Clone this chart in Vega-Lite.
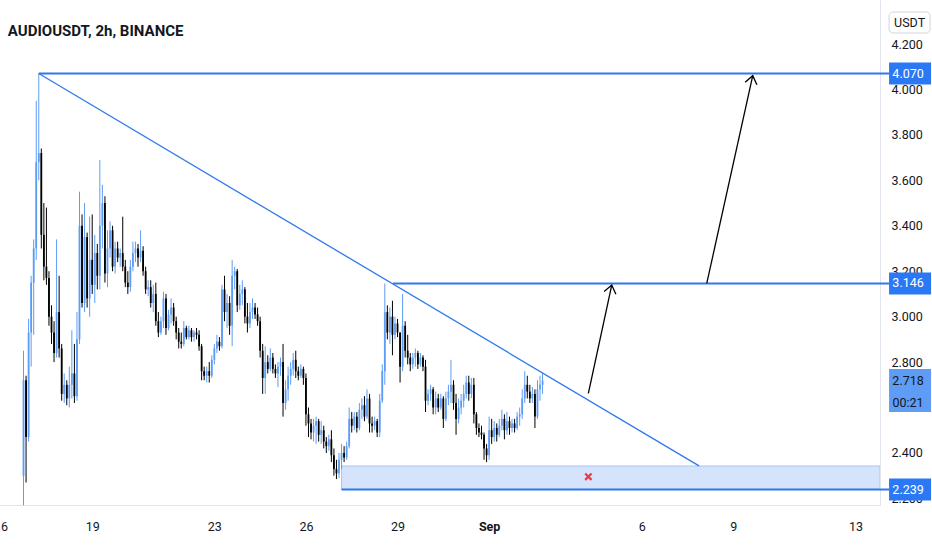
{
"$schema":"https://vega.github.io/schema/vega-lite/v6.json",
"width":880,"height":505,
"autosize":{"type":"none"},
"padding":{"left":0,"top":0,"right":52,"bottom":45},
"background":"#ffffff",
"config":{"view":{"stroke":null},"axis":{"title":null},"scale":{"continuousPadding":0}},
"datasets":{
"candles":[
{"t":"2021-08-16T18:00Z","o":2.30,"h":2.85,"l":2.17,"c":2.72},
{"t":"2021-08-16T20:00Z","o":2.72,"h":2.74,"l":2.27,"c":2.47},
{"t":"2021-08-16T22:00Z","o":2.47,"h":2.99,"l":2.45,"c":2.93},
{"t":"2021-08-17T00:00Z","o":2.93,"h":3.18,"l":2.78,"c":3.15},
{"t":"2021-08-17T02:00Z","o":3.15,"h":3.34,"l":2.92,"c":3.30},
{"t":"2021-08-17T04:00Z","o":3.30,"h":3.95,"l":3.25,"c":3.68},
{"t":"2021-08-17T06:00Z","o":3.68,"h":4.07,"l":3.60,"c":3.72},
{"t":"2021-08-17T08:00Z","o":3.72,"h":3.74,"l":3.30,"c":3.36},
{"t":"2021-08-17T10:00Z","o":3.36,"h":3.50,"l":3.16,"c":3.22},
{"t":"2021-08-17T12:00Z","o":3.22,"h":3.48,"l":3.14,"c":3.17},
{"t":"2021-08-17T14:00Z","o":3.17,"h":3.20,"l":2.96,"c":3.00},
{"t":"2021-08-17T16:00Z","o":3.00,"h":3.05,"l":2.88,"c":2.93},
{"t":"2021-08-17T18:00Z","o":2.93,"h":2.98,"l":2.80,"c":2.84},
{"t":"2021-08-17T20:00Z","o":2.84,"h":3.34,"l":2.82,"c":3.02},
{"t":"2021-08-17T22:00Z","o":3.02,"h":3.18,"l":2.82,"c":2.86},
{"t":"2021-08-18T00:00Z","o":2.86,"h":2.88,"l":2.63,"c":2.66},
{"t":"2021-08-18T02:00Z","o":2.66,"h":2.75,"l":2.62,"c":2.70},
{"t":"2021-08-18T04:00Z","o":2.70,"h":2.72,"l":2.61,"c":2.64},
{"t":"2021-08-18T06:00Z","o":2.64,"h":2.78,"l":2.60,"c":2.70},
{"t":"2021-08-18T08:00Z","o":2.70,"h":2.94,"l":2.64,"c":2.75},
{"t":"2021-08-18T10:00Z","o":2.75,"h":2.88,"l":2.62,"c":2.65},
{"t":"2021-08-18T12:00Z","o":2.65,"h":3.02,"l":2.63,"c":2.90},
{"t":"2021-08-18T14:00Z","o":2.90,"h":3.55,"l":2.88,"c":3.40},
{"t":"2021-08-18T16:00Z","o":3.40,"h":3.45,"l":3.04,"c":3.06},
{"t":"2021-08-18T18:00Z","o":3.06,"h":3.50,"l":3.02,"c":3.35},
{"t":"2021-08-18T20:00Z","o":3.35,"h":3.37,"l":3.04,"c":3.08},
{"t":"2021-08-18T22:00Z","o":3.08,"h":3.44,"l":3.00,"c":3.25},
{"t":"2021-08-19T00:00Z","o":3.25,"h":3.45,"l":3.10,"c":3.14},
{"t":"2021-08-19T02:00Z","o":3.14,"h":3.36,"l":3.06,"c":3.28},
{"t":"2021-08-19T04:00Z","o":3.28,"h":3.32,"l":3.12,"c":3.18},
{"t":"2021-08-19T06:00Z","o":3.18,"h":3.69,"l":3.12,"c":3.40},
{"t":"2021-08-19T08:00Z","o":3.40,"h":3.58,"l":3.30,"c":3.50},
{"t":"2021-08-19T10:00Z","o":3.50,"h":3.53,"l":3.15,"c":3.19},
{"t":"2021-08-19T12:00Z","o":3.19,"h":3.38,"l":3.13,"c":3.30},
{"t":"2021-08-19T14:00Z","o":3.30,"h":3.42,"l":3.26,"c":3.38},
{"t":"2021-08-19T16:00Z","o":3.38,"h":3.40,"l":3.20,"c":3.22},
{"t":"2021-08-19T18:00Z","o":3.22,"h":3.33,"l":3.19,"c":3.30},
{"t":"2021-08-19T20:00Z","o":3.30,"h":3.33,"l":3.24,"c":3.26},
{"t":"2021-08-19T22:00Z","o":3.26,"h":3.30,"l":3.22,"c":3.28},
{"t":"2021-08-20T00:00Z","o":3.28,"h":3.44,"l":3.20,"c":3.22},
{"t":"2021-08-20T02:00Z","o":3.22,"h":3.25,"l":3.13,"c":3.15},
{"t":"2021-08-20T04:00Z","o":3.15,"h":3.20,"l":3.10,"c":3.13},
{"t":"2021-08-20T06:00Z","o":3.13,"h":3.25,"l":3.11,"c":3.22},
{"t":"2021-08-20T08:00Z","o":3.22,"h":3.33,"l":3.20,"c":3.28},
{"t":"2021-08-20T10:00Z","o":3.28,"h":3.33,"l":3.24,"c":3.30},
{"t":"2021-08-20T12:00Z","o":3.30,"h":3.32,"l":3.22,"c":3.26},
{"t":"2021-08-20T14:00Z","o":3.26,"h":3.38,"l":3.24,"c":3.29},
{"t":"2021-08-20T16:00Z","o":3.29,"h":3.31,"l":3.18,"c":3.20},
{"t":"2021-08-20T18:00Z","o":3.20,"h":3.22,"l":3.10,"c":3.12},
{"t":"2021-08-20T20:00Z","o":3.12,"h":3.16,"l":3.09,"c":3.13},
{"t":"2021-08-20T22:00Z","o":3.13,"h":3.16,"l":3.04,"c":3.06},
{"t":"2021-08-21T00:00Z","o":3.06,"h":3.14,"l":3.02,"c":3.10},
{"t":"2021-08-21T02:00Z","o":3.10,"h":3.15,"l":2.96,"c":2.98},
{"t":"2021-08-21T04:00Z","o":2.98,"h":3.02,"l":2.91,"c":2.93},
{"t":"2021-08-21T06:00Z","o":2.93,"h":3.00,"l":2.92,"c":2.98},
{"t":"2021-08-21T08:00Z","o":2.98,"h":3.11,"l":2.95,"c":3.08},
{"t":"2021-08-21T10:00Z","o":3.08,"h":3.10,"l":2.92,"c":2.95},
{"t":"2021-08-21T12:00Z","o":2.95,"h":3.03,"l":2.94,"c":3.01},
{"t":"2021-08-21T14:00Z","o":3.01,"h":3.08,"l":2.97,"c":3.04},
{"t":"2021-08-21T16:00Z","o":3.04,"h":3.06,"l":2.96,"c":2.98},
{"t":"2021-08-21T18:00Z","o":2.98,"h":3.00,"l":2.90,"c":2.93},
{"t":"2021-08-21T20:00Z","o":2.93,"h":2.95,"l":2.86,"c":2.89},
{"t":"2021-08-21T22:00Z","o":2.89,"h":2.93,"l":2.86,"c":2.88},
{"t":"2021-08-22T00:00Z","o":2.88,"h":2.98,"l":2.87,"c":2.95},
{"t":"2021-08-22T02:00Z","o":2.95,"h":2.96,"l":2.90,"c":2.91},
{"t":"2021-08-22T04:00Z","o":2.91,"h":2.96,"l":2.90,"c":2.94},
{"t":"2021-08-22T06:00Z","o":2.94,"h":2.95,"l":2.89,"c":2.91},
{"t":"2021-08-22T08:00Z","o":2.91,"h":2.94,"l":2.89,"c":2.93},
{"t":"2021-08-22T10:00Z","o":2.93,"h":2.95,"l":2.90,"c":2.92},
{"t":"2021-08-22T12:00Z","o":2.92,"h":2.94,"l":2.85,"c":2.87},
{"t":"2021-08-22T14:00Z","o":2.87,"h":2.88,"l":2.72,"c":2.76},
{"t":"2021-08-22T16:00Z","o":2.76,"h":2.78,"l":2.72,"c":2.74},
{"t":"2021-08-22T18:00Z","o":2.74,"h":2.78,"l":2.71,"c":2.76},
{"t":"2021-08-22T20:00Z","o":2.76,"h":2.80,"l":2.71,"c":2.74},
{"t":"2021-08-22T22:00Z","o":2.74,"h":2.83,"l":2.73,"c":2.81},
{"t":"2021-08-23T00:00Z","o":2.81,"h":2.88,"l":2.79,"c":2.86},
{"t":"2021-08-23T02:00Z","o":2.86,"h":2.92,"l":2.84,"c":2.89},
{"t":"2021-08-23T04:00Z","o":2.89,"h":2.91,"l":2.85,"c":2.87},
{"t":"2021-08-23T06:00Z","o":2.87,"h":3.14,"l":2.86,"c":3.12},
{"t":"2021-08-23T08:00Z","o":3.12,"h":3.18,"l":2.98,"c":3.02},
{"t":"2021-08-23T10:00Z","o":3.02,"h":3.10,"l":2.95,"c":3.06},
{"t":"2021-08-23T12:00Z","o":3.06,"h":3.09,"l":2.92,"c":2.96},
{"t":"2021-08-23T14:00Z","o":2.96,"h":3.25,"l":2.87,"c":3.18},
{"t":"2021-08-23T16:00Z","o":3.18,"h":3.22,"l":3.12,"c":3.20},
{"t":"2021-08-23T18:00Z","o":3.20,"h":3.21,"l":3.02,"c":3.05},
{"t":"2021-08-23T20:00Z","o":3.05,"h":3.14,"l":3.03,"c":3.10},
{"t":"2021-08-23T22:00Z","o":3.10,"h":3.16,"l":3.05,"c":3.12},
{"t":"2021-08-24T00:00Z","o":3.12,"h":3.13,"l":2.97,"c":3.00},
{"t":"2021-08-24T02:00Z","o":3.00,"h":3.06,"l":2.93,"c":2.97},
{"t":"2021-08-24T04:00Z","o":2.97,"h":3.06,"l":2.95,"c":3.02},
{"t":"2021-08-24T06:00Z","o":3.02,"h":3.08,"l":2.99,"c":3.04},
{"t":"2021-08-24T08:00Z","o":3.04,"h":3.06,"l":2.99,"c":3.01},
{"t":"2021-08-24T10:00Z","o":3.01,"h":3.04,"l":2.96,"c":2.98},
{"t":"2021-08-24T12:00Z","o":2.98,"h":3.00,"l":2.82,"c":2.85},
{"t":"2021-08-24T14:00Z","o":2.85,"h":2.88,"l":2.66,"c":2.73},
{"t":"2021-08-24T16:00Z","o":2.73,"h":2.87,"l":2.66,"c":2.80},
{"t":"2021-08-24T18:00Z","o":2.80,"h":2.83,"l":2.75,"c":2.77},
{"t":"2021-08-24T20:00Z","o":2.77,"h":2.86,"l":2.76,"c":2.82},
{"t":"2021-08-24T22:00Z","o":2.82,"h":2.84,"l":2.75,"c":2.77},
{"t":"2021-08-25T00:00Z","o":2.77,"h":2.79,"l":2.73,"c":2.75},
{"t":"2021-08-25T02:00Z","o":2.75,"h":2.80,"l":2.69,"c":2.78},
{"t":"2021-08-25T04:00Z","o":2.78,"h":2.82,"l":2.74,"c":2.80},
{"t":"2021-08-25T06:00Z","o":2.80,"h":2.88,"l":2.56,"c":2.62},
{"t":"2021-08-25T08:00Z","o":2.62,"h":2.72,"l":2.59,"c":2.68},
{"t":"2021-08-25T10:00Z","o":2.68,"h":2.78,"l":2.63,"c":2.74},
{"t":"2021-08-25T12:00Z","o":2.74,"h":2.80,"l":2.70,"c":2.77},
{"t":"2021-08-25T14:00Z","o":2.77,"h":2.84,"l":2.74,"c":2.81},
{"t":"2021-08-25T16:00Z","o":2.81,"h":2.85,"l":2.73,"c":2.76},
{"t":"2021-08-25T18:00Z","o":2.76,"h":2.78,"l":2.72,"c":2.74},
{"t":"2021-08-25T20:00Z","o":2.74,"h":2.79,"l":2.73,"c":2.77},
{"t":"2021-08-25T22:00Z","o":2.77,"h":2.78,"l":2.70,"c":2.73},
{"t":"2021-08-26T00:00Z","o":2.73,"h":2.75,"l":2.52,"c":2.57},
{"t":"2021-08-26T02:00Z","o":2.57,"h":2.60,"l":2.47,"c":2.53},
{"t":"2021-08-26T04:00Z","o":2.53,"h":2.55,"l":2.46,"c":2.49},
{"t":"2021-08-26T06:00Z","o":2.49,"h":2.55,"l":2.45,"c":2.52},
{"t":"2021-08-26T08:00Z","o":2.52,"h":2.56,"l":2.44,"c":2.54},
{"t":"2021-08-26T10:00Z","o":2.54,"h":2.55,"l":2.45,"c":2.48},
{"t":"2021-08-26T12:00Z","o":2.48,"h":2.54,"l":2.44,"c":2.50},
{"t":"2021-08-26T14:00Z","o":2.50,"h":2.52,"l":2.42,"c":2.45},
{"t":"2021-08-26T16:00Z","o":2.45,"h":2.47,"l":2.40,"c":2.43},
{"t":"2021-08-26T18:00Z","o":2.43,"h":2.48,"l":2.41,"c":2.46},
{"t":"2021-08-26T20:00Z","o":2.46,"h":2.50,"l":2.36,"c":2.39},
{"t":"2021-08-26T22:00Z","o":2.39,"h":2.42,"l":2.30,"c":2.33},
{"t":"2021-08-27T00:00Z","o":2.33,"h":2.37,"l":2.285,"c":2.31},
{"t":"2021-08-27T02:00Z","o":2.31,"h":2.40,"l":2.29,"c":2.37},
{"t":"2021-08-27T04:00Z","o":2.37,"h":2.44,"l":2.33,"c":2.40},
{"t":"2021-08-27T06:00Z","o":2.40,"h":2.43,"l":2.36,"c":2.38},
{"t":"2021-08-27T08:00Z","o":2.38,"h":2.45,"l":2.37,"c":2.43},
{"t":"2021-08-27T10:00Z","o":2.43,"h":2.60,"l":2.42,"c":2.55},
{"t":"2021-08-27T12:00Z","o":2.55,"h":2.58,"l":2.49,"c":2.52},
{"t":"2021-08-27T14:00Z","o":2.52,"h":2.58,"l":2.50,"c":2.56},
{"t":"2021-08-27T16:00Z","o":2.56,"h":2.58,"l":2.49,"c":2.51},
{"t":"2021-08-27T18:00Z","o":2.51,"h":2.62,"l":2.50,"c":2.59},
{"t":"2021-08-27T20:00Z","o":2.59,"h":2.64,"l":2.55,"c":2.61},
{"t":"2021-08-27T22:00Z","o":2.61,"h":2.65,"l":2.54,"c":2.56},
{"t":"2021-08-28T00:00Z","o":2.56,"h":2.68,"l":2.55,"c":2.64},
{"t":"2021-08-28T02:00Z","o":2.64,"h":2.66,"l":2.49,"c":2.53},
{"t":"2021-08-28T04:00Z","o":2.53,"h":2.56,"l":2.49,"c":2.52},
{"t":"2021-08-28T06:00Z","o":2.52,"h":2.56,"l":2.50,"c":2.54},
{"t":"2021-08-28T08:00Z","o":2.54,"h":2.55,"l":2.47,"c":2.49},
{"t":"2021-08-28T10:00Z","o":2.49,"h":2.66,"l":2.47,"c":2.63},
{"t":"2021-08-28T12:00Z","o":2.63,"h":2.79,"l":2.62,"c":2.76},
{"t":"2021-08-28T14:00Z","o":2.76,"h":3.146,"l":2.70,"c":3.02},
{"t":"2021-08-28T16:00Z","o":3.02,"h":3.05,"l":2.90,"c":2.93},
{"t":"2021-08-28T18:00Z","o":2.93,"h":3.04,"l":2.88,"c":3.00},
{"t":"2021-08-28T20:00Z","o":3.00,"h":3.07,"l":2.83,"c":2.92},
{"t":"2021-08-28T22:00Z","o":2.92,"h":3.00,"l":2.90,"c":2.97},
{"t":"2021-08-29T00:00Z","o":2.97,"h":2.99,"l":2.91,"c":2.93},
{"t":"2021-08-29T02:00Z","o":2.93,"h":2.93,"l":2.71,"c":2.78},
{"t":"2021-08-29T04:00Z","o":2.78,"h":3.10,"l":2.76,"c":2.96},
{"t":"2021-08-29T06:00Z","o":2.96,"h":2.98,"l":2.82,"c":2.85},
{"t":"2021-08-29T08:00Z","o":2.85,"h":2.92,"l":2.79,"c":2.82},
{"t":"2021-08-29T10:00Z","o":2.82,"h":2.84,"l":2.76,"c":2.79},
{"t":"2021-08-29T12:00Z","o":2.79,"h":2.84,"l":2.77,"c":2.82},
{"t":"2021-08-29T14:00Z","o":2.82,"h":2.86,"l":2.78,"c":2.84},
{"t":"2021-08-29T16:00Z","o":2.84,"h":2.85,"l":2.77,"c":2.79},
{"t":"2021-08-29T18:00Z","o":2.79,"h":2.84,"l":2.78,"c":2.82},
{"t":"2021-08-29T20:00Z","o":2.82,"h":2.83,"l":2.76,"c":2.78},
{"t":"2021-08-29T22:00Z","o":2.78,"h":2.81,"l":2.58,"c":2.63},
{"t":"2021-08-30T00:00Z","o":2.63,"h":2.68,"l":2.61,"c":2.66},
{"t":"2021-08-30T02:00Z","o":2.66,"h":2.70,"l":2.63,"c":2.68},
{"t":"2021-08-30T04:00Z","o":2.68,"h":2.69,"l":2.57,"c":2.60},
{"t":"2021-08-30T06:00Z","o":2.60,"h":2.67,"l":2.57,"c":2.64},
{"t":"2021-08-30T08:00Z","o":2.64,"h":2.66,"l":2.58,"c":2.60},
{"t":"2021-08-30T10:00Z","o":2.60,"h":2.66,"l":2.59,"c":2.64},
{"t":"2021-08-30T12:00Z","o":2.64,"h":2.65,"l":2.51,"c":2.55},
{"t":"2021-08-30T14:00Z","o":2.55,"h":2.67,"l":2.54,"c":2.64},
{"t":"2021-08-30T16:00Z","o":2.64,"h":2.70,"l":2.61,"c":2.67},
{"t":"2021-08-30T18:00Z","o":2.67,"h":2.81,"l":2.62,"c":2.70},
{"t":"2021-08-30T20:00Z","o":2.70,"h":2.72,"l":2.59,"c":2.62},
{"t":"2021-08-30T22:00Z","o":2.62,"h":2.66,"l":2.48,"c":2.55},
{"t":"2021-08-31T00:00Z","o":2.55,"h":2.64,"l":2.53,"c":2.60},
{"t":"2021-08-31T02:00Z","o":2.60,"h":2.66,"l":2.57,"c":2.63},
{"t":"2021-08-31T04:00Z","o":2.63,"h":2.70,"l":2.60,"c":2.66},
{"t":"2021-08-31T06:00Z","o":2.66,"h":2.74,"l":2.64,"c":2.71},
{"t":"2021-08-31T08:00Z","o":2.71,"h":2.74,"l":2.63,"c":2.66},
{"t":"2021-08-31T10:00Z","o":2.66,"h":2.73,"l":2.64,"c":2.70},
{"t":"2021-08-31T12:00Z","o":2.70,"h":2.73,"l":2.53,"c":2.57},
{"t":"2021-08-31T14:00Z","o":2.57,"h":2.58,"l":2.48,"c":2.51},
{"t":"2021-08-31T16:00Z","o":2.51,"h":2.53,"l":2.47,"c":2.49},
{"t":"2021-08-31T18:00Z","o":2.49,"h":2.52,"l":2.46,"c":2.48},
{"t":"2021-08-31T20:00Z","o":2.48,"h":2.49,"l":2.37,"c":2.42},
{"t":"2021-08-31T22:00Z","o":2.42,"h":2.44,"l":2.36,"c":2.39},
{"t":"2021-09-01T00:00Z","o":2.39,"h":2.56,"l":2.37,"c":2.50},
{"t":"2021-09-01T02:00Z","o":2.50,"h":2.55,"l":2.44,"c":2.47},
{"t":"2021-09-01T04:00Z","o":2.47,"h":2.54,"l":2.45,"c":2.51},
{"t":"2021-09-01T06:00Z","o":2.51,"h":2.53,"l":2.45,"c":2.48},
{"t":"2021-09-01T08:00Z","o":2.48,"h":2.55,"l":2.47,"c":2.52},
{"t":"2021-09-01T10:00Z","o":2.52,"h":2.59,"l":2.50,"c":2.55},
{"t":"2021-09-01T12:00Z","o":2.55,"h":2.57,"l":2.46,"c":2.50},
{"t":"2021-09-01T14:00Z","o":2.50,"h":2.58,"l":2.48,"c":2.54},
{"t":"2021-09-01T16:00Z","o":2.54,"h":2.56,"l":2.48,"c":2.51},
{"t":"2021-09-01T18:00Z","o":2.51,"h":2.55,"l":2.49,"c":2.53},
{"t":"2021-09-01T20:00Z","o":2.53,"h":2.55,"l":2.49,"c":2.51},
{"t":"2021-09-01T22:00Z","o":2.51,"h":2.58,"l":2.50,"c":2.56},
{"t":"2021-09-02T00:00Z","o":2.56,"h":2.60,"l":2.52,"c":2.57},
{"t":"2021-09-02T02:00Z","o":2.57,"h":2.68,"l":2.55,"c":2.64},
{"t":"2021-09-02T04:00Z","o":2.64,"h":2.76,"l":2.62,"c":2.70},
{"t":"2021-09-02T06:00Z","o":2.70,"h":2.74,"l":2.64,"c":2.67},
{"t":"2021-09-02T08:00Z","o":2.67,"h":2.70,"l":2.62,"c":2.64},
{"t":"2021-09-02T10:00Z","o":2.64,"h":2.69,"l":2.62,"c":2.66},
{"t":"2021-09-02T12:00Z","o":2.66,"h":2.68,"l":2.51,"c":2.56},
{"t":"2021-09-02T14:00Z","o":2.56,"h":2.72,"l":2.55,"c":2.68},
{"t":"2021-09-02T16:00Z","o":2.68,"h":2.74,"l":2.63,"c":2.70},
{"t":"2021-09-02T18:00Z","o":2.70,"h":2.75,"l":2.66,"c":2.718}
],
"zone":[{"t":"2021-08-27T04:00Z","t2":"2021-09-13T19:15Z","p":2.239,"p2":2.3426}],
"lines":[
{"kind":"ray","t":"2021-08-17T06:00Z","p":4.07,"t2":"2021-09-14T02:22Z","p2":4.07},
{"kind":"ray","t":"2021-08-28T20:30Z","p":3.146,"t2":"2021-09-14T02:22Z","p2":3.146},
{"kind":"ray","t":"2021-08-27T04:00Z","p":2.239,"t2":"2021-09-14T02:22Z","p2":2.239},
{"kind":"trend","t":"2021-08-17T06:00Z","p":4.07,"t2":"2021-09-07T21:00Z","p2":2.343}
],
"arrows":[
{"t":"2021-09-04T06:00Z","p":2.6626,"t2":"2021-09-05T00:23Z","p2":3.139},
{"t":"2021-09-08T03:04Z","p":3.146,"t2":"2021-09-09T15:13Z","p2":4.0607}
],
"stop":[{"t":"2021-09-04T06:00Z","p":2.2955}],
"levels":[
{"t":"2021-09-14T18:53Z","p":4.07,"label":"4.070"},
{"t":"2021-09-14T18:53Z","p":3.146,"label":"3.146"},
{"t":"2021-09-14T18:53Z","p":2.239,"label":"2.239"}
],
"last":[{"t":"2021-09-14T18:53Z","p":2.675}],
"lastText":[
{"t":"2021-09-14T18:53Z","p":2.718,"label":"2.718"},
{"t":"2021-09-14T18:53Z","p":2.622,"label":"00:21"}
],
"unit":[{"t":"2021-09-14T02:22Z","t2":"2021-09-15T10:36Z","tc":"2021-09-14T18:30Z","p":4.2484,"p2":4.3408,"pc":4.2946,"label":"USDT"}],
"title":[{"t":"2021-08-16T05:40Z","p":4.2352,"label":"AUDIOUSDT, 2h, BINANCE"}]
},
"layer":[
{"data":{"name":"zone"},
 "mark":{"type":"rect","fill":"#d5e3fc","stroke":"#a8c4f4","strokeWidth":1,"clip":true},
 "encoding":{
  "x":{"field":"t","type":"temporal","title":null,"scale":{"type":"utc","domain":[{"year":2021,"month":8,"date":15,"hours":23,"minutes":31,"utc":true},{"year":2021,"month":9,"date":13,"hours":19,"minutes":15,"utc":true}],"nice":false,"padding":0},
   "axis":{"values":[{"year":2021,"month":8,"date":16,"utc":true},{"year":2021,"month":8,"date":19,"utc":true},{"year":2021,"month":8,"date":23,"utc":true},{"year":2021,"month":8,"date":26,"utc":true},{"year":2021,"month":8,"date":29,"utc":true},{"year":2021,"month":9,"date":1,"utc":true},{"year":2021,"month":9,"date":6,"utc":true},{"year":2021,"month":9,"date":9,"utc":true},{"year":2021,"month":9,"date":13,"utc":true}],
    "labelExpr":"utcdate(datum.value)==1 ? 'Sep' : '' + utcdate(datum.value)",
    "labelFontWeight":{"condition":{"test":"utcdate(datum.value)==1","value":"bold"},"value":"normal"},
    "title":null,"grid":false,"ticks":false,"labelFlush":false,"labelOverlap":false,"labelBound":false,"labelPadding":15,
    "labelFont":"Roboto","labelFontSize":12.5,"labelColor":"#131722","domainColor":"#e0e3eb","domainWidth":1}},
  "x2":{"field":"t2"},
  "y":{"field":"p","type":"quantitative","title":null,"scale":{"domain":[2.171,4.3937],"nice":false,"zero":false,"padding":0},
   "axis":{"orient":"right","values":[2.2,2.4,2.6,2.8,3.0,3.2,3.4,3.6,3.8,4.0,4.2],"format":".3f","title":null,"grid":false,"ticks":false,
    "labelPadding":11,"labelAlign":"left","labelBaseline":"middle","labelFont":"Roboto","labelFontSize":12.5,"labelColor":"#131722",
    "labelOverlap":false,"labelFlush":false,"domainColor":"#e0e3eb","domainWidth":1}},
  "y2":{"field":"p2"}}},
{"data":{"name":"candles"},
 "mark":{"type":"rule","strokeWidth":1},
 "encoding":{
  "x":{"field":"t","type":"temporal","title":null},
  "y":{"field":"l","type":"quantitative","title":null},
  "y2":{"field":"h"},
  "color":{"condition":{"test":"datum.c >= datum.o","value":"#5d9cf5"},"value":"#000000"}}},
{"data":{"name":"candles"},
 "mark":{"type":"bar","size":1.8},
 "encoding":{
  "x":{"field":"t","type":"temporal","title":null},
  "y":{"field":"o","type":"quantitative","title":null},
  "y2":{"field":"c"},
  "color":{"condition":{"test":"datum.c >= datum.o","value":"#5d9cf5"},"value":"#000000"}}},
{"data":{"name":"lines"},
 "mark":{"type":"rule","color":"#2f78ee"},
 "encoding":{
  "x":{"field":"t","type":"temporal","title":null},
  "x2":{"field":"t2"},
  "y":{"field":"p","type":"quantitative","title":null},
  "y2":{"field":"p2"},
  "strokeWidth":{"condition":{"test":"datum.kind=='trend'","value":1.3},"value":2}}},
{"data":{"name":"arrows"},
 "mark":{"type":"rule","color":"#000000","strokeWidth":1.3},
 "encoding":{
  "x":{"field":"t","type":"temporal","title":null},
  "x2":{"field":"t2"},
  "y":{"field":"p","type":"quantitative","title":null},
  "y2":{"field":"p2"}}},
{"data":{"name":"arrows"},
 "mark":{"type":"point","shape":"M-0.75,1L0,0L0.75,1","size":256,"filled":false,"color":"#000000","strokeWidth":1.3,"angle":12.3,"opacity":1},
 "encoding":{
  "x":{"field":"t2","type":"temporal","title":null},
  "y":{"field":"p2","type":"quantitative","title":null}}},
{"data":{"name":"stop"},
 "mark":{"type":"point","shape":"M-1,-1L1,1M1,-1L-1,1","size":40,"filled":false,"color":"#f23645","strokeWidth":2.2,"opacity":1},
 "encoding":{
  "x":{"field":"t","type":"temporal","title":null},
  "y":{"field":"p","type":"quantitative","title":null}}},
{"data":{"name":"levels"},
 "mark":{"type":"point","shape":"M-1,-0.5238L1,-0.5238L1,0.5238L-1,0.5238Z","size":1764,"filled":true,"color":"#2b78f5","opacity":1,"strokeWidth":0},
 "encoding":{
  "x":{"field":"t","type":"temporal","title":null},
  "y":{"field":"p","type":"quantitative","title":null}}},
{"data":{"name":"levels"},
 "mark":{"type":"text","color":"#ffffff","font":"Roboto","fontSize":12.5,"align":"center","baseline":"middle","dx":-2},
 "encoding":{
  "x":{"field":"t","type":"temporal","title":null},
  "y":{"field":"p","type":"quantitative","title":null},
  "text":{"field":"label"}}},
{"data":{"name":"last"},
 "mark":{"type":"point","shape":"M-1,-1.024L1,-1.024L1,1.024L-1,1.024Z","size":1764,"filled":true,"color":"#5e9cf5","opacity":1,"strokeWidth":0},
 "encoding":{
  "x":{"field":"t","type":"temporal","title":null},
  "y":{"field":"p","type":"quantitative","title":null}}},
{"data":{"name":"lastText"},
 "mark":{"type":"text","color":"#131722","font":"Roboto","fontSize":12.5,"align":"center","baseline":"middle","dx":-2},
 "encoding":{
  "x":{"field":"t","type":"temporal","title":null},
  "y":{"field":"p","type":"quantitative","title":null},
  "text":{"field":"label"}}},
{"data":{"name":"unit"},
 "mark":{"type":"rect","fill":"#ffffff","stroke":"#d1d4dc","strokeWidth":1,"cornerRadius":4},
 "encoding":{
  "x":{"field":"t","type":"temporal","title":null},
  "x2":{"field":"t2"},
  "y":{"field":"p","type":"quantitative","title":null},
  "y2":{"field":"p2"}}},
{"data":{"name":"unit"},
 "mark":{"type":"text","color":"#131722","font":"Roboto","fontSize":12.5,"align":"center","baseline":"middle"},
 "encoding":{
  "x":{"field":"tc","type":"temporal","title":null},
  "y":{"field":"pc","type":"quantitative","title":null},
  "text":{"field":"label"}}},
{"data":{"name":"title"},
 "mark":{"type":"text","color":"#131722","font":"Roboto","fontSize":15,"fontWeight":"bold","align":"left","baseline":"alphabetic"},
 "encoding":{
  "x":{"field":"t","type":"temporal","title":null},
  "y":{"field":"p","type":"quantitative","title":null},
  "text":{"field":"label"}}}
]
}
